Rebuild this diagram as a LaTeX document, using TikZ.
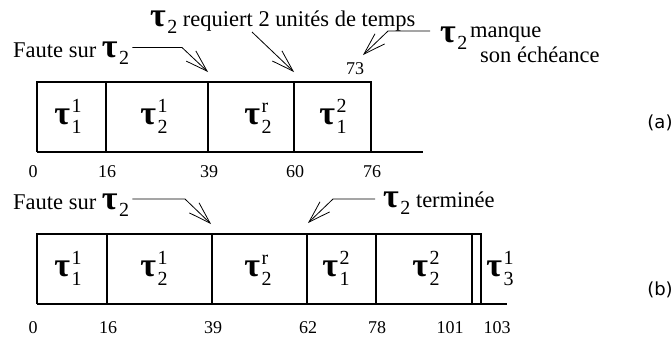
\documentclass[tikz,border=0pt]{standalone}
\usepackage{fontspec}
\setmainfont{Liberation Serif}
\newfontfamily\capfont{DejaVu Sans}
\usetikzlibrary{arrows.meta,calc}
\newcommand\taufont{\rmfamily\bfseries\fontsize{34}{34}\selectfont}
\newcommand\scfont{\rmfamily\mdseries\fontsize{20}{20}\selectfont}
% tau with subscript and superscript (job, instance)
\newcommand\tsk[2]{{\taufont τ}\kern1.5pt\rlap{\raisebox{12pt}{\scfont #2}}\raisebox{-9pt}{\scfont #1}}
% tau with subscript only
\newcommand\tlb[1]{{\taufont τ}\kern1.5pt\raisebox{-7pt}{\scfont #1}}
\tikzset{
  txt/.style={font=\rmfamily\fontsize{22.5}{25}\selectfont,inner sep=0pt,anchor=base west},
  ticklbl/.style={font=\rmfamily\fontsize{18}{18}\selectfont,inner sep=0pt,anchor=base},
  tasklbl/.style={inner sep=0pt,anchor=base},
  caplbl/.style={font=\capfont\fontsize{18}{18}\selectfont,inner sep=0pt},
  boxline/.style={line width=1.1pt},
  axisline/.style={line width=1.6pt},
  pointer/.style={line width=0.8pt,-{Straight Barb[length=22pt,width=14pt]}},
}
\begin{document}
\begin{tikzpicture}[x=1pt,y=-1pt]
  \useasboundingbox (0,0) rectangle (672,338);
  % ---- schedule (a)
  \draw[boxline] (37,152) |- (371,82) -- (371,152);
  \foreach \x in {106,208,294} \draw[boxline] (\x,82) -- (\x,152);
  \draw[axisline] (37,152) -- (423,152);
  \foreach \x/\t in {33/0,107/16,209/39,295/60,372/76}
    \node[ticklbl] (ta\t) at (\x,177) {\t};
  \foreach \x/\s/\p/\n in {68/1/1/ja1,154/2/1/ja2,258/2/r/ja3,333/1/2/ja4}
    \node[tasklbl] (\n) at (\x,124) {\tsk{\s}{\p}};
  \node[ticklbl] (t73) at (355,74) {73};
  \coordinate (tipA39) at (208,72);
  \coordinate (tipA60) at (294,72);
  \coordinate (tipA73) at (363,55);
  \node[txt] (faA) at (13,57) {Faute sur \tlb{2}};
  \node[txt] (req) at (150,26) {\tlb{2} requiert 2 unités de temps};
  \node[txt] (mq) at (440,42) {\tlb{2}};
  \node[txt] (mq1) at (470,37) {manque};
  \node[txt] (mq2) at (480,62) {son échéance};
  \draw[pointer] ($(faA.base east)+(3,-9.5)$) -- ($(tipA39)+(-26,-24.5)$) -- (tipA39);
  \draw[pointer] ($(req.base west)+(102,6)$) -- (tipA60);
  \draw[pointer] ($(mq.base west)+(-10,-11)$) -- ($(tipA73)+(25,-24)$) -- (tipA73);
  \node[caplbl] (capA) at (660,123) {(a)};
  % ---- schedule (b)
  \draw[boxline] (37,304) |- (481,234) -- (481,304);
  \foreach \x in {107,212,307,376,472} \draw[boxline] (\x,234) -- (\x,304);
  \draw[axisline] (37,304) -- (507,304);
  \foreach \x/\t in {33/0,108/16,213/39,308/62,377/78,450/101,497/103}
    \node[ticklbl] (tb\t) at (\x,333) {\t};
  \foreach \x/\s/\p/\n in {68/1/1/jb1,154/2/1/jb2,258/2/r/jb3,336/1/2/jb4,426/2/2/jb5,500/3/1/jb6}
    \node[tasklbl] (\n) at (\x,276) {\tsk{\s}{\p}};
  \coordinate (tipB39) at (211,224);
  \coordinate (tipB62) at (308,223);
  \node[txt] (faB) at (13,209) {Faute sur \tlb{2}};
  \node[txt] (fin) at (383,207) {\tlb{2} terminée};
  \draw[pointer] ($(faB.base east)+(3,-10)$) -- ($(tipB39)+(-26,-25)$) -- (tipB39);
  \draw[pointer] ($(fin.base west)+(-8,-8)$) -- ($(tipB62)+(25,-24)$) -- (tipB62);
  \node[caplbl] (capB) at (660,290) {(b)};
\end{tikzpicture}
\end{document}
